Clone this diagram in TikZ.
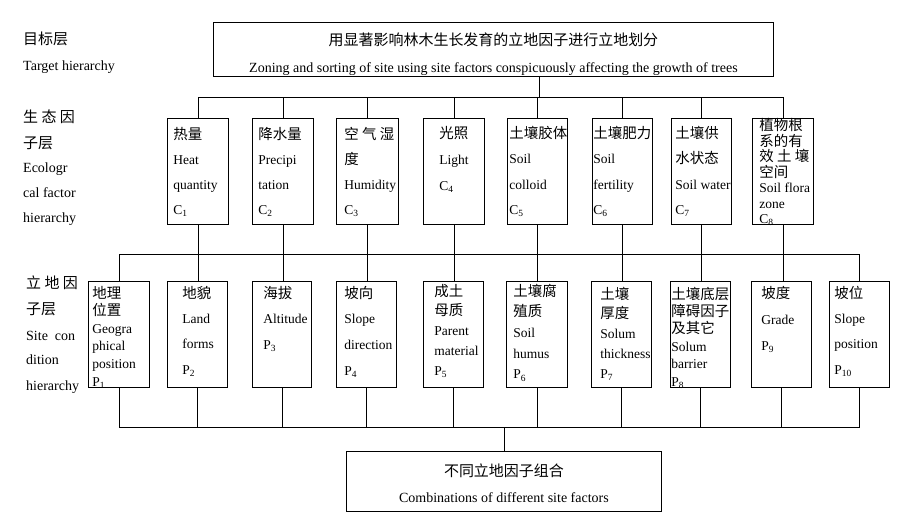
\documentclass[tikz,border=0pt]{standalone}
\usepackage{fontspec}
\setmainfont{Liberation Serif}
\newfontfamily\cjk{Noto Sans CJK SC}[Scale=1.07]
% factor cell: width, indent, first baseline, line skip, lines
\newcommand{\fcell}[5]{\parbox[c][106pt][t]{#1}{\fontsize{13.5}{#4}\selectfont\leftskip=#2\relax\rule{0pt}{#3}#5}}

\begin{document}
\begin{tikzpicture}[x=1pt,y=-1pt,
 lbl/.style={anchor=base west,inner sep=0pt,font=\fontsize{14}{16}\selectfont},
 goal/.style={draw,line width=0.9pt,inner sep=0pt,anchor=north west},
 factor/.style={draw,line width=0.9pt,inner sep=0pt,anchor=north west},
 link/.style={line width=0.9pt}]
\useasboundingbox (0,0) rectangle (903,514);
% hierarchy labels
\node[lbl] (tz) at (23,44.5) {\cjk 目标层};
\node[lbl] (te) at (23,70) {Target hierarchy};
\node[lbl] (ez1) at (23,122.5) {\cjk 生 态 因};
\node[lbl] (ez2) at (23,148.5) {\cjk 子层};
\node[lbl] (ee1) at (23,172) {Ecologr};
\node[lbl] (ee2) at (23,197) {cal factor};
\node[lbl] (ee3) at (23,222) {hierarchy};
\node[lbl] (sz1) at (26,288.5) {\cjk 立 地 因};
\node[lbl] (sz2) at (26,314.5) {\cjk 子层};
\node[lbl] (se1) at (26,340) {Site\enspace con};
\node[lbl] (se2) at (26,364) {dition};
\node[lbl] (se3) at (26,390) {hierarchy};
% target
\node[goal] (target) at (213,22) {\parbox[c][54pt][t]{560pt}{\centering\fontsize{14}{27}\selectfont\rule{0pt}{23.5pt}{\cjk 用显著影响林木生长发育的立地因子进行立地划分}\\Zoning and sorting of site using site factors conspicuously affecting the growth of trees}};
% ecological factors
\node[factor] (g1) at (167,118) {\fcell{61pt}{6pt}{21pt}{25pt}{{\cjk 热量}\\Heat\\quantity\\C\textsubscript{1}}};
\node[factor] (g2) at (252,118) {\fcell{61pt}{6pt}{21pt}{25pt}{{\cjk 降水量}\\Precipi\\tation\\C\textsubscript{2}}};
\node[factor] (g3) at (336,118) {\fcell{62pt}{8pt}{21pt}{25pt}{{\cjk 空~气~湿}\\{\cjk 度}\\Humidity\\C\textsubscript{3}}};
\node[factor] (g4) at (423,118) {\fcell{61pt}{16pt}{20pt}{26pt}{{\cjk 光照}\\Light\\C\textsubscript{4}}};
\node[factor] (g5) at (507,118) {\fcell{60pt}{2pt}{20pt}{25.3pt}{{\cjk 土壤胶体}\\Soil\\colloid\\C\textsubscript{5}}};
\node[factor] (g6) at (592,118) {\fcell{60pt}{1pt}{20pt}{25.3pt}{{\cjk 土壤肥力}\\Soil\\fertility\\C\textsubscript{6}}};
\node[factor] (g7) at (671,118) {\fcell{60pt}{4pt}{20pt}{25.3pt}{{\cjk 土壤供}\\{\cjk 水状态}\\Soil~water\\C\textsubscript{7}}};
\node[factor] (g8) at (752,118) {\fcell{61pt}{7pt}{12.2pt}{15.5pt}{{\cjk 植物根}\\{\cjk 系的有}\\{\cjk 效~土~壤}\\{\cjk 空间}\\Soil~flora\\zone\\C\textsubscript{8}}};
% site conditions
\node[factor] (p1) at (88,281) {\fcell{61pt}{4pt}{16.7pt}{17.6pt}{{\cjk 地理}\\{\cjk 位置}\\Geogra\\phical\\position\\P\textsubscript{1}}};
\node[factor] (p2) at (167,281) {\fcell{60pt}{15pt}{16.7pt}{25.3pt}{{\cjk 地貌}\\Land\\forms\\P\textsubscript{2}}};
\node[factor] (p3) at (252,281) {\fcell{59pt}{11pt}{16.7pt}{25.5pt}{{\cjk 海拔}\\Altitude\\P\textsubscript{3}}};
\node[factor] (p4) at (336,281) {\fcell{60pt}{8pt}{16.7pt}{25.7pt}{{\cjk 坡向}\\Slope\\direction\\P\textsubscript{4}}};
\node[factor] (p5) at (423,281) {\fcell{60pt}{11pt}{14.7pt}{19.8pt}{{\cjk 成土}\\{\cjk 母质}\\Parent\\material\\P\textsubscript{5}}};
\node[factor] (p6) at (506,281) {\fcell{61pt}{7pt}{14.7pt}{20.7pt}{{\cjk 土壤腐}\\{\cjk 殖质}\\Soil\\humus\\P\textsubscript{6}}};
\node[factor] (p7) at (591,281) {\fcell{60pt}{9pt}{17.7pt}{19.8pt}{{\cjk 土壤}\\{\cjk 厚度}\\Solum\\thickness\\P\textsubscript{7}}};
\node[factor] (p8) at (670,281) {\fcell{60pt}{1pt}{17.7pt}{17.4pt}{{\cjk 土壤底层}\\{\cjk 障碍因子}\\{\cjk 及其它}\\Solum\\barrier\\P\textsubscript{8}}};
\node[factor] (p9) at (751,281) {\fcell{60pt}{10pt}{16.7pt}{26pt}{{\cjk 坡度}\\Grade\\P\textsubscript{9}}};
\node[factor] (p10) at (829,281) {\fcell{60pt}{5pt}{16.7pt}{25.3pt}{{\cjk 坡位}\\Slope\\position\\P\textsubscript{10}}};
% combination
\node[goal] (comb) at (346,451) {\parbox[c][60pt][t]{315pt}{\centering\fontsize{14}{26}\selectfont\rule{0pt}{25.5pt}{\cjk 不同立地因子组合}\\Combinations of different site factors}};
% connectors
\coordinate (bus1) at (539,97);
\coordinate (bus2) at (0,254);
\coordinate (bus3) at (0,427);
\draw[link] (target.south -| bus1) -- (bus1);
\draw[link] (g1.north) |- (g8.north |- bus1) -- (g8.north);
\foreach \i in {2,...,7} \draw[link] (g\i.north) -- (g\i.north |- bus1);
\draw[link] (p1.north) |- (p10.north |- bus2) -- (p10.north);
\foreach \i/\j in {1/2,2/3,3/4,4/5,5/6,6/7,7/8,8/9} \draw[link] (g\i.south) -- (g\i.south |- p\j.north);
\draw[link] (p1.south) |- (p10.south |- bus3) -- (p10.south);
\foreach \i in {2,...,9} \draw[link] (p\i.south) -- (p\i.south |- bus3);
\draw[link] (comb.north) -- (comb.north |- bus3);
\end{tikzpicture}
\end{document}
